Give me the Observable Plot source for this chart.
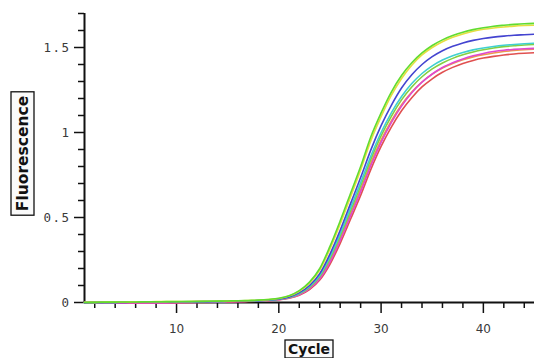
<!DOCTYPE html>
<html><head><meta charset="utf-8">
<script src="https://cdn.jsdelivr.net/npm/d3@7"></script>
<script src="https://cdn.jsdelivr.net/npm/@observablehq/plot@0.6"></script>
<style>body{margin:0;background:#fff;overflow:hidden}</style>
</head><body><div id="chart"></div>
<script>
const cycles = d3.range(1, 46);
const xMajorTicks = [10, 20, 30, 40];
const xMinorTicks = [2, 4, 6, 8, 12, 14, 16, 18, 22, 24, 26, 28, 32, 34, 36, 38, 42, 44];
const yMajorTicks = [0, 0.5, 1, 1.5];
const yMinorTicks = [0.1, 0.2, 0.3, 0.4, 0.6, 0.7, 0.8, 0.9, 1.1, 1.2, 1.3, 1.4, 1.6, 1.7];
const seriesNames = ["A1", "A2", "A3", "A4", "A5", "A6", "A7", "A8"];
const seriesColors = ["#e05050", "#ec9a4c", "#e048d0", "#84d040", "#40d0d0", "#4444d0", "#e6de40", "#60dc30"];

const sRed = [0.000,-0.001,-0.002,-0.003,-0.003,-0.004,-0.004,-0.003,-0.003,-0.002,-0.001,0.000,0.001,0.002,0.003,0.004,0.006,0.008,0.011,0.016,0.025,0.043,0.076,0.132,0.225,0.348,0.488,0.630,0.783,0.918,1.032,1.128,1.205,1.268,1.316,1.354,1.383,1.406,1.424,1.438,1.448,1.456,1.462,1.466,1.469];
const sOrange = [-0.002,-0.002,-0.001,0.000,0.000,0.001,0.001,0.002,0.002,0.003,0.003,0.004,0.004,0.005,0.006,0.007,0.008,0.010,0.013,0.018,0.028,0.048,0.084,0.145,0.246,0.375,0.520,0.665,0.820,0.955,1.068,1.163,1.238,1.297,1.343,1.379,1.406,1.428,1.445,1.458,1.468,1.476,1.482,1.487,1.490];
const sMagenta = [0.000,-0.001,-0.002,-0.002,-0.003,-0.003,-0.003,-0.002,-0.002,-0.001,0.000,0.001,0.002,0.003,0.004,0.005,0.007,0.009,0.012,0.017,0.027,0.046,0.081,0.140,0.238,0.365,0.508,0.652,0.806,0.942,1.058,1.155,1.234,1.296,1.344,1.382,1.410,1.433,1.451,1.465,1.476,1.484,1.489,1.493,1.495];
const sGreen2 = [0.000,0.000,0.001,0.001,0.002,0.002,0.003,0.003,0.003,0.004,0.004,0.005,0.005,0.006,0.007,0.008,0.009,0.010,0.013,0.019,0.029,0.051,0.089,0.152,0.258,0.390,0.537,0.685,0.842,0.980,1.095,1.192,1.268,1.328,1.374,1.409,1.436,1.457,1.474,1.487,1.497,1.505,1.510,1.515,1.518];
const sCyan = [-0.001,0.000,0.000,0.001,0.002,0.002,0.003,0.003,0.004,0.004,0.005,0.005,0.006,0.006,0.007,0.008,0.009,0.011,0.014,0.020,0.031,0.054,0.094,0.160,0.270,0.405,0.555,0.705,0.862,1.000,1.116,1.212,1.288,1.347,1.392,1.426,1.452,1.471,1.486,1.497,1.506,1.513,1.518,1.522,1.525];
const sBlue = [-0.002,-0.001,0.000,0.001,0.001,0.002,0.002,0.003,0.003,0.004,0.004,0.005,0.005,0.006,0.007,0.008,0.009,0.011,0.015,0.021,0.033,0.058,0.100,0.170,0.285,0.425,0.580,0.735,0.898,1.040,1.160,1.262,1.340,1.400,1.446,1.481,1.507,1.527,1.542,1.553,1.561,1.567,1.572,1.575,1.578];
const sYellow = [0.001,0.001,0.002,0.003,0.003,0.004,0.004,0.005,0.005,0.006,0.006,0.007,0.007,0.008,0.009,0.010,0.011,0.013,0.017,0.024,0.038,0.066,0.113,0.190,0.315,0.462,0.620,0.780,0.952,1.093,1.218,1.318,1.396,1.456,1.500,1.534,1.560,1.580,1.596,1.607,1.615,1.621,1.626,1.629,1.631];
const sGreen = [0.000,0.001,0.002,0.002,0.003,0.003,0.004,0.004,0.005,0.005,0.006,0.006,0.007,0.008,0.009,0.010,0.012,0.014,0.018,0.025,0.040,0.070,0.120,0.200,0.330,0.480,0.640,0.800,0.975,1.115,1.238,1.335,1.410,1.468,1.512,1.545,1.570,1.590,1.605,1.616,1.625,1.631,1.636,1.640,1.642];

const seriesValues = [sRed, sOrange, sMagenta, sGreen2, sCyan, sBlue, sYellow, sGreen];
const data = seriesNames.flatMap((name, i) =>
  seriesValues[i].map((v, j) => ({cycle: cycles[j], value: v, series: name})));

const chart = Plot.plot({
  width: 534, height: 358,
  marginLeft: 84, marginRight: 0, marginTop: 13, marginBottom: 56,
  style: {fontFamily: "DejaVu Sans", fontSize: "12px", background: "#fff"},
  x: {domain: [1, 45]},
  y: {domain: [0, 1.7]},
  color: {domain: seriesNames, range: seriesColors},
  marks: [
    Plot.axisY({ticks: yMinorTicks, tickSize: 6, tickFormat: () => "", label: null, stroke: "#111", strokeWidth: 1.5}),
    Plot.axisY({ticks: yMajorTicks, tickSize: 10, tickPadding: 4, label: null, stroke: "#111", strokeWidth: 1.5,
      fill: "#3a3a3a", fontFamily: "DejaVu Sans Mono", fontSize: 12.5, tickFormat: d => String(d)}),
    Plot.axisX({ticks: xMinorTicks, tickSize: 6, tickFormat: () => "", label: null, stroke: "#111", strokeWidth: 1.5}),
    Plot.axisX({ticks: xMajorTicks, tickSize: 11, tickPadding: 11, label: null, stroke: "#111", strokeWidth: 1.5,
      fill: "#3a3a3a", fontSize: 12}),
    Plot.ruleX([1], {stroke: "#111", strokeWidth: 2}),
    Plot.ruleY([0], {stroke: "#111", strokeWidth: 2}),
    Plot.line(data, {x: "cycle", y: "value", z: "series", stroke: "series", strokeWidth: 1.6, curve: "monotone-x"})
  ]
});
document.getElementById("chart").appendChild(chart);

const svg = d3.select(chart);
svg.style("overflow", "visible");
svg.selectAll("[aria-label='y-axis tick label'] text").style("letter-spacing", "1.5px");

function boxedLabel(text, cx, cy, rotate, size, padX, padY) {
  const g = svg.append("g").attr("transform", `translate(${cx},${cy}) rotate(${rotate})`);
  const rect = g.append("rect").attr("fill", "#fafafa").attr("stroke", "#111").attr("stroke-width", 1.3);
  const t = g.append("text").text(text)
    .attr("text-anchor", "middle").attr("dominant-baseline", "central")
    .attr("font-family", "DejaVu Sans").attr("font-weight", "bold").attr("font-size", size).attr("fill", "#111");
  const b = t.node().getBBox();
  rect.attr("x", b.x - padX).attr("y", b.y - padY).attr("width", b.width + 2 * padX).attr("height", b.height + 2 * padY);
}
boxedLabel("Fluorescence", 22.5, 153.5, -90, 15.5, 4, 2.5);
boxedLabel("Cycle", 309, 349, 0, 14, 3, 1);
</script>
</body></html>
